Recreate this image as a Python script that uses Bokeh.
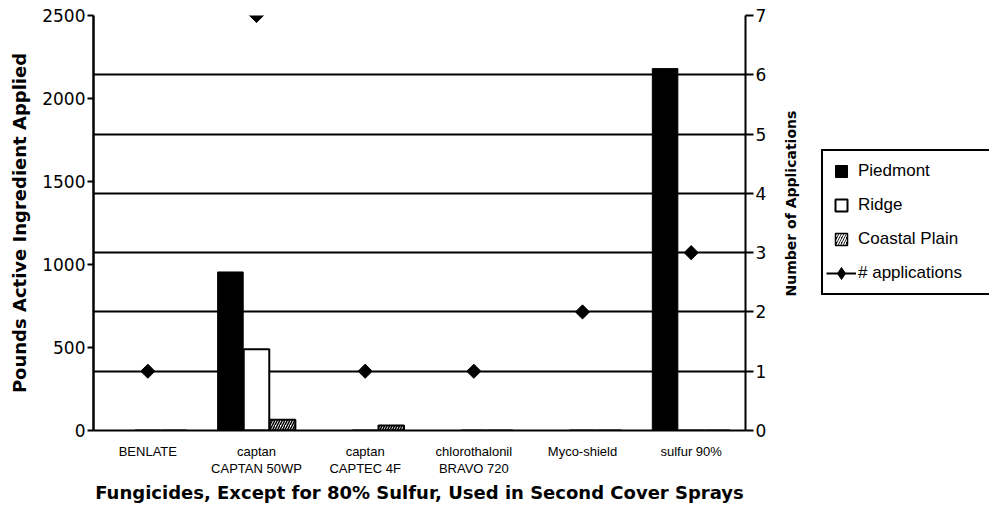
import math
from bokeh.plotting import figure
from bokeh.layouts import row
from bokeh.models import (Range1d, LinearAxis, FixedTicker, Grid, Legend, LegendItem,
                          Label, FactorRange, ColumnDataSource)
from bokeh.transform import dodge
from bokeh.embed import file_html
from bokeh.resources import INLINE

# ---- data ----
categories = ["BENLATE", "captan\nCAPTAN 50WP", "captan\nCAPTEC 4F",
              "chlorothalonil\nBRAVO 720", "Myco-shield", "sulfur 90%"]
piedmont = [0, 955, 0, 0, 0, 2180]
ridge = [0, 490, 0, 0, 0, 0]
coastal_plain = [0, 65, 30, 0, 0, 0]
applications = [1, 7, 1, 1, 2, 3]
left_ticks = [0, 500, 1000, 1500, 2000, 2500]
right_ticks = [0, 1, 2, 3, 4, 5, 6, 7]
grid_values = [1, 2, 3, 4, 5, 6, 7]
legend_labels = ["Piedmont", "Ridge", "Coastal Plain", "# applications"]

src = ColumnDataSource(dict(cat=categories, piedmont=piedmont, ridge=ridge,
                            coastal=coastal_plain, apps=applications))

p = figure(x_range=FactorRange(*categories), y_range=Range1d(0, 2500),
           width=770, height=505, output_backend="svg", toolbar_location=None,
           min_border_left=93, min_border_right=25, min_border_top=15,
           min_border_bottom=73)
p.extra_y_ranges = {"apps": Range1d(0, 7)}
p.outline_line_color = None
p.xgrid.visible = False
p.ygrid.visible = False

grid = Grid(dimension=1, ticker=FixedTicker(ticks=grid_values), y_range_name="apps",
            grid_line_color="black", grid_line_width=2)
p.add_layout(grid)

bw = 0.235
p.vbar(x=dodge("cat", -0.24, range=p.x_range), top="piedmont", width=bw, source=src,
       fill_color="black", line_color="black", line_width=1)
p.vbar(x=dodge("cat", 0.0, range=p.x_range), top="ridge", width=bw, source=src,
       fill_color="white", line_color="black", line_width=2)
p.vbar(x=dodge("cat", 0.24, range=p.x_range), top="coastal", width=bw, source=src,
       fill_color="white", line_color="black", line_width=2,
       hatch_pattern="/", hatch_color="black", hatch_scale=5, hatch_weight=1.5)

p.scatter(x="cat", y="apps", source=src, y_range_name="apps", marker="square",
          angle=math.pi / 4, size=10, fill_color="black", line_color="black")

# axes
ya = p.yaxis[0]
ya.ticker = FixedTicker(ticks=left_ticks)
ya.axis_line_width = 2.5
ya.major_tick_out = 6
ya.major_tick_in = 0
ya.major_tick_line_width = 2
ya.minor_tick_line_color = None
ya.major_label_text_font = "DejaVu Sans"
ya.major_label_text_font_size = "17px"
ya.major_label_text_color = "black"
ya.major_label_standoff = 2
ya.axis_label = "Pounds Active Ingredient Applied"
ya.axis_label_text_font = "DejaVu Sans"
ya.axis_label_text_font_style = "bold"
ya.axis_label_text_font_size = "18px"
ya.axis_label_text_color = "black"
ya.axis_label_standoff = 9

ra = LinearAxis(y_range_name="apps", ticker=FixedTicker(ticks=right_ticks))
ra.axis_line_width = 2
ra.major_tick_out = 8
ra.major_tick_in = 0
ra.major_tick_line_width = 2
ra.minor_tick_line_color = None
ra.major_label_text_font = "DejaVu Sans"
ra.major_label_text_font_size = "17px"
ra.major_label_text_color = "black"
ra.major_label_standoff = 2
p.add_layout(ra, "right")

xa = p.xaxis[0]
xa.axis_line_width = 2
xa.major_tick_line_color = None
xa.major_label_text_font = "Liberation Sans"
xa.major_label_text_font_size = "13px"
xa.major_label_text_line_height = 1.15
xa.major_label_text_color = "black"
xa.major_label_standoff = 7
xa.axis_label = "Fungicides, Except for 80% Sulfur, Used in Second Cover Sprays"
xa.axis_label_text_font = "DejaVu Sans"
xa.axis_label_text_font_style = "bold"
xa.axis_label_text_font_size = "18px"
xa.axis_label_text_color = "black"
xa.axis_label_standoff = 3

# ---- right-hand strip: axis title and legend (frame aligned with main frame) ----
p2 = figure(width=219, height=505, x_range=Range1d(0, 219), y_range=Range1d(73, 490),
            output_backend="svg", toolbar_location=None, x_axis_type=None,
            y_axis_type=None, min_border_left=0, min_border_right=0,
            min_border_top=15, min_border_bottom=73)
p2.outline_line_color = None
p2.xgrid.visible = False
p2.ygrid.visible = False

p2.add_layout(Label(x=20, y=301, angle=math.pi / 2, text="Number of Applications",
                    text_align="center", text_baseline="middle",
                    text_font="DejaVu Sans", text_font_style="bold",
                    text_font_size="14px", text_color="black"))

off = [-1000]
r_lp = p2.scatter(x=off, y=off, marker="square", fill_color="black", line_color="black")
r_lr = p2.scatter(x=off, y=off, marker="square", fill_color="white", line_color="black",
                  line_width=2)
r_lc = p2.scatter(x=off, y=off, marker="square", fill_color="black", line_color="black",
                  line_width=1.5, hatch_pattern="/", hatch_color="white", hatch_scale=5,
                  hatch_weight=1.5)
r_ll = p2.line(x=[-1000, -990], y=[-1000, -1000], line_color="black", line_width=2)
r_ld = p2.scatter(x=off, y=off, marker="diamond", fill_color="black", line_color="black")

legend = Legend(items=[
    LegendItem(label=legend_labels[0], renderers=[r_lp]),
    LegendItem(label=legend_labels[1], renderers=[r_lr]),
    LegendItem(label=legend_labels[2], renderers=[r_lc]),
    LegendItem(label=legend_labels[3], renderers=[r_ll, r_ld]),
], location=(51, 135), glyph_width=30, glyph_height=34, spacing=0, padding=3,
    label_standoff=2, label_width=140, margin=0, border_line_color="black",
    border_line_width=2, border_line_alpha=1.0,
    background_fill_color="white", background_fill_alpha=1.0,
    label_text_font="Liberation Sans", label_text_font_size="17px",
    label_text_color="black")
p2.add_layout(legend)

layout = row(p, p2)
open("out.html", "w").write(file_html(layout, INLINE))
